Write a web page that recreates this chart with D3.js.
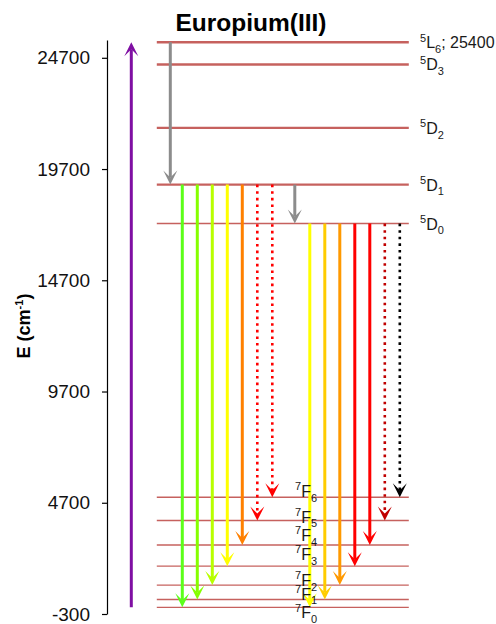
<!DOCTYPE html>
<html>
<head>
<meta charset="utf-8">
<script src="https://cdn.jsdelivr.net/npm/d3@7"></script>
<style>
  body { margin: 0; background: #fff; }
  svg { display: block; font-family: "Liberation Sans", Arial, sans-serif; }
</style>
</head>
<body>
<script>
// ---------------- data ----------------
const levelNames    = ["7F0", "7F1", "7F2", "7F3", "7F4", "7F5", "7F6", "5D0", "5D1", "5D2", "5D3", "5L6"];
const levelEnergies = [0, 350, 1000, 1850, 2800, 3900, 4950, 17250, 19000, 21550, 24400, 25400];
const yTicks = [-300, 4700, 9700, 14700, 19700, 24700];

// emissions from 5D1 and 5D0 to 7F0..7F6
const emissionTargets = ["7F0", "7F1", "7F2", "7F3", "7F4", "7F5", "7F6"];
const d1Colors = ["#5CFF1A", "#86FF00", "#B8FF00", "#FFFF00", "#FF8000", "#FF0000", "#FF0000"];
const d1Dotted = [false, false, false, false, false, true, true];
const d0Colors = ["#FFFF00", "#FFCC00", "#FF9900", "#FF0000", "#FF0000", "#C00000", "#000000"];
const d0Dotted = [false, false, false, false, false, true, true];

// non-radiative relaxations and absorption
const relaxations = [["5L6", "5D1"], ["5D1", "5D0"]];
const absorption = ["7F0", "5L6"];

// ---------------- layout ----------------
const W = 496, H = 624;
const E = {};
levelNames.forEach((n, i) => E[n] = levelEnergies[i]);

const svg = d3.select("body").append("svg").attr("width", W).attr("height", H);

const y = d3.scaleLinear().domain([-300, 25500]).range([614, 40]);
const x = d3.scaleLinear().domain([0, 15]).range([182.3, 407.3]); // column units

// title
svg.append("text").attr("x", 251).attr("y", 31).attr("text-anchor", "middle")
  .attr("font-size", 24.5).attr("font-weight", "bold").attr("fill", "#000")
  .text("Europium(III)");

// axis
const axisG = svg.append("g").attr("transform", "translate(107,0)")
  .call(d3.axisLeft(y).tickValues(yTicks).tickSize(5).tickSizeOuter(0).tickPadding(12).tickFormat(d => String(d)));
axisG.select(".domain").attr("stroke", "#000").attr("stroke-width", 1.2);
axisG.selectAll(".tick line").attr("stroke", "#000").attr("stroke-width", 1.2);
axisG.selectAll(".tick text").attr("font-size", 19).attr("fill", "#111")
  .attr("font-family", "'Liberation Sans', Arial, sans-serif");

// axis title
const at = svg.append("text").attr("transform", "translate(30,326) rotate(-90)")
  .attr("text-anchor", "middle").attr("font-size", 18).attr("font-weight", "bold").attr("fill", "#000");
at.append("tspan").text("E (cm");
at.append("tspan").attr("font-size", 11).attr("dy", -7).text("-1");
at.append("tspan").attr("dy", 7).text(")");

// level lines
svg.append("g").selectAll("line").data(levelNames).join("line")
  .attr("x1", x(-1.7)).attr("x2", x(15.1))
  .attr("y1", d => y(E[d])).attr("y2", d => y(E[d]))
  .attr("stroke", "#C0504D")
  .attr("stroke-opacity", 0.9)
  .attr("stroke-width", d => E[d] > 18000 ? 2.4 : 1.4);

// arrow helper
const arrowG = svg.append("g");
function arrow(cx, yFrom, yTo, color, dotted, width) {
  const dir = yTo > yFrom ? 1 : -1;
  const L = 14, w = 14, notch = 0.5;
  const yEnd = yTo - dir * L * notch;
  arrowG.append("line")
    .attr("x1", cx).attr("x2", cx).attr("y1", yFrom).attr("y2", yEnd)
    .attr("stroke", color).attr("stroke-width", dotted ? 2.6 : (width || 3))
    .attr("stroke-dasharray", dotted ? "2.6 4" : null);
  arrowG.append("path")
    .attr("d", `M${cx},${yTo} L${cx - w / 2},${yTo - dir * L} L${cx},${yTo - dir * L * notch} L${cx + w / 2},${yTo - dir * L} Z`)
    .attr("fill", color);
}

// absorption (purple)
arrow(x(-3.4), y(E[absorption[0]]), y(E[absorption[1]]), "#7F0FA3", false, 3);

// relaxation arrows (gray)
arrow(x(-0.8), y(E[relaxations[0][0]]), y(E[relaxations[0][1]]), "#8C8C8C", false, 3);
arrow(x(7.5), y(E[relaxations[1][0]]), y(E[relaxations[1][1]]), "#8C8C8C", false, 3);

// emissions
emissionTargets.forEach((t, j) => {
  arrow(x(j), y(E["5D1"]), y(E[t]), d1Colors[j], d1Dotted[j]);
});
emissionTargets.forEach((t, j) => {
  arrow(x(8.5 + j), y(E["5D0"]), y(E[t]), d0Colors[j], d0Dotted[j]);
});

// label helper: sup + main + sub (+ tail)
function termLabel(g, xx, yy, sup, main, sub, tail, fs, ss) {
  const t = g.append("text").attr("x", xx).attr("y", yy).attr("font-size", fs).attr("fill", "#1a1a1a");
  t.append("tspan").attr("font-size", ss).attr("dy", -fs * 0.42).text(sup);
  t.append("tspan").attr("dy", fs * 0.42).text(main);
  t.append("tspan").attr("font-size", ss).attr("dy", fs * 0.3).text(sub);
  if (tail) t.append("tspan").attr("dy", -fs * 0.3).text(tail);
}

// right-hand labels for excited states
const labG = svg.append("g");
["5L6", "5D3", "5D2", "5D1", "5D0"].forEach(n => {
  termLabel(labG, 420, y(E[n]) + 6, n[0], n[1], n[2], n === "5L6" ? "; " + E[n] : null, 16, 11);
});

// 7F labels (layout offsets from each line)
const fLabelDy = [11, 0, 1, -6, -4, 2, 0];
emissionTargets.forEach((n, j) => {
  termLabel(labG, 295, y(E[n]) + fLabelDy[j], n[0], n[1], n[2], null, 16, 11);
});
</script>
</body>
</html>
